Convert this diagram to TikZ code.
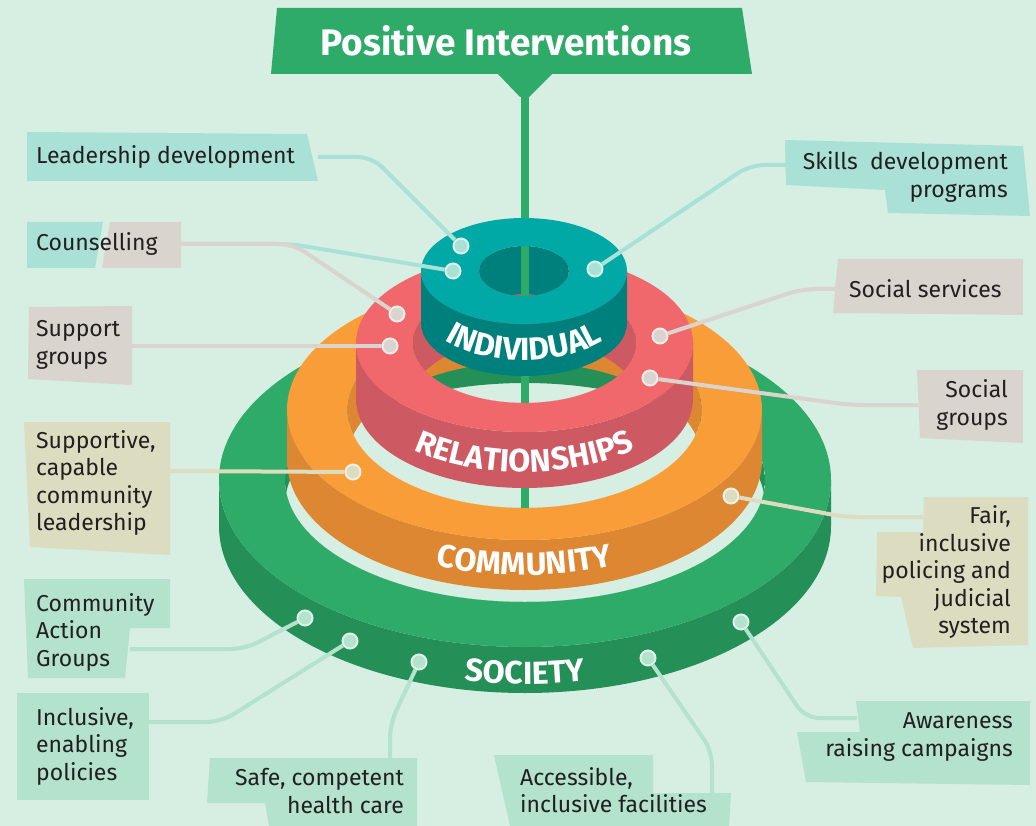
\documentclass[tikz,border=0pt]{standalone}
\usepackage{fontspec}
\setmainfont{Fira Sans}
\usetikzlibrary{decorations.text}
\definecolor{bgmint}{HTML}{D7EEE2}
\definecolor{socTop}{HTML}{2EAA69}
\definecolor{socSide}{HTML}{249057}
\definecolor{comTop}{HTML}{F89D38}
\definecolor{comSide}{HTML}{DE8732}
\definecolor{relTop}{HTML}{F0686B}
\definecolor{relSide}{HTML}{CD5A62}
\definecolor{indTop}{HTML}{00A9A6}
\definecolor{indSide}{HTML}{00807C}
\definecolor{indLab}{HTML}{A9E1D7}
\definecolor{relLab}{HTML}{D9D4CD}
\definecolor{comLab}{HTML}{DCDDC0}
\definecolor{socLab}{HTML}{B3E2CD}
\definecolor{labText}{HTML}{231F20}
\newcommand{\labfont}{\fontsize{23}{27.5}\selectfont}
\newcommand{\ringfont}{\fontsize{32}{32}\selectfont\bfseries}
\begin{document}
\begin{tikzpicture}[x=1pt,y=-1pt,
  lab/.style={font=\labfont, text=labText, inner sep=0pt},
  linkI/.style={draw=indLab, line width=4, rounded corners=14},
  linkR/.style={draw=relLab, line width=4, rounded corners=14},
  linkC/.style={draw=comLab, line width=4, rounded corners=14},
  linkS/.style={draw=socLab, line width=4, rounded corners=14},
  dotI/.style={circle, fill=indLab, draw=white!55!indLab, line width=2, minimum size=15, inner sep=0},
  dotR/.style={circle, fill=relLab, draw=white!55!relLab, line width=2, minimum size=15, inner sep=0},
  dotC/.style={circle, fill=comLab, draw=white!55!comLab, line width=2, minimum size=15, inner sep=0},
  dotS/.style={circle, fill=socLab, draw=white!55!socLab, line width=2, minimum size=15, inner sep=0}]
\fill[bgmint] (0,0) rectangle (1036,826);
\useasboundingbox (0,0) rectangle (1036,826);
% society
\begin{scope}
\clip (525,480) ellipse [x radius=240, y radius=122];
\fill[socSide, even odd rule] (525,480) ellipse [x radius=240, y radius=122] (525,505) ellipse [x radius=240, y radius=122];
\end{scope}
\fill[socSide] (219,480) -- (219,526) arc [start angle=180, end angle=0, x radius=306, y radius=167] -- (831,480) arc [start angle=0, end angle=180, x radius=306, y radius=167] -- cycle;
\fill[socTop, even odd rule] (525,480) ellipse [x radius=306, y radius=167] (525,480) ellipse [x radius=240, y radius=122];
% community
\begin{scope}
\clip (524.5,410) ellipse [x radius=177, y radius=98];
\fill[comSide, even odd rule] (524.5,410) ellipse [x radius=177, y radius=98] (524.5,460) ellipse [x radius=177, y radius=98];
\end{scope}
\fill[comSide] (287,410) -- (287,460) arc [start angle=180, end angle=0, x radius=237.5, y radius=130] -- (762,410) arc [start angle=0, end angle=180, x radius=237.5, y radius=130] -- cycle;
\fill[comTop, even odd rule] (524.5,410) ellipse [x radius=237.5, y radius=130] (524.5,410) ellipse [x radius=177, y radius=98];
\draw[socTop, line width=8] (524.5,90) -- (524.5,508);
% relationships
\begin{scope}
\clip (524.5,343) ellipse [x radius=112, y radius=60];
\fill[relSide, even odd rule] (524.5,343) ellipse [x radius=112, y radius=60] (524.5,399) ellipse [x radius=112, y radius=60];
\end{scope}
\fill[relSide] (356,343) -- (356,399) arc [start angle=180, end angle=0, x radius=168.5, y radius=89] -- (693,343) arc [start angle=0, end angle=180, x radius=168.5, y radius=89] -- cycle;
\fill[relTop, even odd rule] (524.5,343) ellipse [x radius=168.5, y radius=89] (524.5,343) ellipse [x radius=112, y radius=60];
% individual
\begin{scope}
\clip (524,271) ellipse [x radius=45, y radius=25];
\fill[indSide, even odd rule] (524,271) ellipse [x radius=45, y radius=25] (524,319) ellipse [x radius=45, y radius=25];
\draw[socTop, line width=8] (524.5,240) -- (524.5,300);
\end{scope}
\fill[indSide] (421,271) -- (421,323) arc [start angle=180, end angle=0, x radius=103, y radius=53] -- (627,271) arc [start angle=0, end angle=180, x radius=103, y radius=53] -- cycle;
\fill[indTop, even odd rule] (524,271) ellipse [x radius=103, y radius=53] (524,271) ellipse [x radius=45, y radius=25];
% ring names
\path[decorate, decoration={text along path, text align=center, text color=white, text={|\ringfont|INDIVIDUAL}}] (421,307) arc [start angle=180, end angle=0, x radius=103, y radius=53];
\path[decorate, decoration={text along path, text align=center, text color=white, text={|\ringfont|RELATIONSHIPS}}] (356,383) arc [start angle=180, end angle=0, x radius=168.5, y radius=89];
\path[decorate, decoration={text along path, text align=center, text color=white, text={|\ringfont|COMMUNITY}}] (287,445) arc [start angle=180, end angle=0, x radius=237.5, y radius=130];
\path[decorate, decoration={text along path, text align=center, text color=white, text={|\ringfont|SOCIETY}}] (219,517) arc [start angle=180, end angle=0, x radius=306, y radius=167];
% banner
\fill[socTop] (277,8) -- (742,8) -- (752,74) -- (552,74) -- (529,97) -- (520,97) -- (498,74) -- (271,74) -- cycle;
\node[font=\fontsize{37}{37}\selectfont\bfseries, text=white, inner sep=0] (title) at (506,41) {Positive Interventions};
% boxes
\fill[indLab] (27,132) -- (307,134) -- (318,181) -- (27,181) -- cycle;
\fill[indLab] (27,222) -- (103,222) -- (95,268) -- (27,268) -- cycle;
\fill[relLab] (110,222) -- (181,222) -- (181,268) -- (102,268) -- cycle;
\fill[relLab] (29,307) -- (132,306) -- (132,385) -- (28,379) -- cycle;
\fill[indLab] (785,140) -- (1023,146) -- (1030,216) -- (888,213) -- (885,190) -- (786,185) -- cycle;
\fill[relLab] (838,259) -- (1023,259) -- (1023,315) -- (833,313) -- cycle;
\fill[relLab] (917,370) -- (1023,370) -- (1023,443) -- (920,438) -- cycle;
\fill[comLab] (24,422) -- (170,422) -- (170,555) -- (30,547) -- cycle;
\fill[comLab] (924,497) -- (1028,497) -- (1028,645) -- (913,648) -- (901,597) -- (876,596) -- (877,532) -- (923,532) -- cycle;
\fill[socLab] (24,579) -- (170,579) -- (170,628) -- (130,628) -- (125,678) -- (28,678) -- cycle;
\fill[socLab] (17,693) -- (149,693) -- (149,800) -- (17,800) -- cycle;
\fill[socLab] (210,758) -- (417,758) -- (417,826) -- (269,826) -- (265,803) -- (207,803) -- cycle;
\fill[socLab] (494,755) -- (653,755) -- (653,793) -- (731,793) -- (729,826) -- (510,826) -- cycle;
\fill[socLab] (856,701) -- (1030,701) -- (1030,785) -- (806,782) -- (797,732) -- (860,732) -- cycle;
% labels
\node[lab, anchor=west] (tLead) at (36,157) {Leadership development};
\node[lab, anchor=west] (tCoun) at (36,244) {Counselling};
\node[lab, anchor=west, align=left] (tSup) at (36,345) {Support\\groups};
\node[lab, anchor=east, align=right] (tSkill) at (1008,177) {Skills~ development\\programs};
\node[lab, anchor=west] (tServ) at (849,289) {Social services};
\node[lab, anchor=east, align=right] (tSgrp) at (1008,405) {Social\\groups};
\node[lab, anchor=west, align=left] (tSupp) at (36,483) {Supportive,\\capable\\community\\leadership};
\node[lab, anchor=east, align=right] (tFair) at (1011,572) {Fair,\\inclusive\\policing and\\judicial\\system};
\node[lab, anchor=west, align=left] (tCAG) at (36,632) {Community\\Action\\Groups};
\node[lab, anchor=west, align=left] (tIncl) at (36,746) {Inclusive,\\enabling\\policies};
\node[lab, anchor=east, align=right] (tSafe) at (404,791) {Safe, competent\\health care};
\node[lab, anchor=west, align=left] (tAcc) at (520,790) {Accessible,\\inclusive facilities};
\node[lab, anchor=east, align=right] (tAware) at (1013,737) {Awareness\\raising campaigns};
% dots
\node[dotI] (dLead) at (461,246) {};
\node[dotI] (dCounI) at (453,271) {};
\node[dotI] (dSkill) at (595,269) {};
\node[dotR] (dCounR) at (397,314) {};
\node[dotR] (dSup) at (390,346) {};
\node[dotR] (dServ) at (660,336) {};
\node[dotR] (dSgrp) at (650,378) {};
\node[dotC] (dSupp) at (353,472) {};
\node[dotC] (dFair) at (731,496) {};
\node[dotS] (dCAG) at (305,618) {};
\node[dotS] (dIncl) at (350,641) {};
\node[dotS] (dSafe) at (419,662) {};
\node[dotS] (dAcc) at (648,658) {};
\node[dotS] (dAware) at (741,622) {};
% connectors
\coordinate (cLead) at (318,157);
\coordinate (cCoun) at (181,244);
\coordinate (cSup) at (132,346);
\coordinate (cSkill) at (786,165);
\coordinate (cServ) at (836,289);
\coordinate (cSgrp) at (918,405);
\coordinate (cSupp) at (170,471);
\coordinate (cFair) at (923,517);
\coordinate (cCAG) at (130,649);
\coordinate (cIncl) at (149,722);
\coordinate (cSafe) at (390,758);
\coordinate (cAcc) at (712,793);
\coordinate (cAware) at (857,718);
\draw[linkI] (cLead) -- ++(54,0) -- (dLead);
\draw[linkI] (cCoun) -- ++(110,0) -- (dCounI);
\draw[linkR] (cCoun) -- ++(112,0) -- (dCounR);
\draw[linkR] (cSup) -- (dSup);
\draw[linkI] (cSkill) -- ++(-36,0) -- (dSkill);
\draw[linkR] (cServ) -- ++(-34,0) -- (dServ);
\draw[linkR] (cSgrp) -- ++(-68,0) -- (dSgrp);
\draw[linkC] (cSupp) -- (dSupp);
\draw[linkC] (cFair) -- ++(-78,0) -- (dFair);
\draw[linkS] (cCAG) -- ++(115,0) -- (dCAG);
\draw[linkS] (cIncl) -- ++(72,0) -- (dIncl);
\draw[linkS] (cSafe) -- ++(0,-34) -- (dSafe);
\draw[linkS] (cAcc) -- ++(0,-42) -- (dAcc);
\draw[linkS] (cAware) -- ++(-52,0) -- (dAware);
\end{tikzpicture}
\end{document}
